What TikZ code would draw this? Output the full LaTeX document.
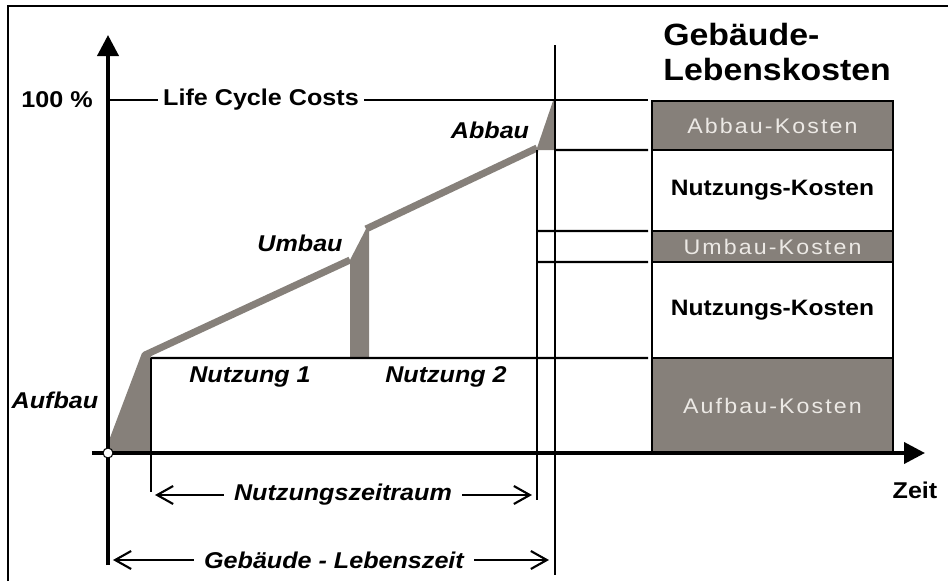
\documentclass[tikz,border=0pt]{standalone}
\usepackage{fontspec}
\setmainfont{Liberation Sans}[FakeStretch=1.1]
\newfontfamily\spacedfont{Liberation Sans}[FakeStretch=1.1,LetterSpace=10]
\usetikzlibrary{positioning,arrows.meta}
\definecolor{costgray}{HTML}{86807A}
\definecolor{paletext}{HTML}{ECE9E5}

\begin{document}
\begin{tikzpicture}[
    axis/.style={line width=2.2pt, -{Triangle[length=0.42cm,width=0.42cm]}},
    lvl/.style={line width=1.2pt},
    dimarrow/.style={line width=1.2pt, -{Straight Barb[length=0.32cm,width=0.36cm]}},
    curve/.style={line width=4pt, draw=costgray, line join=round},
    lbl/.style={font=\fontsize{13}{15}\selectfont\bfseries, inner sep=0.1cm},
    phase/.style={font=\fontsize{13}{15}\selectfont\bfseries\itshape, inner sep=0.1cm},
    kseg/.style={draw, line width=1.6pt, minimum width=4.82cm, inner sep=0pt,
                 outer sep=0pt},
    kgray/.style={kseg, fill=costgray, text=paletext,
                  font=\fontsize{12}{14}\selectfont\spacedfont},
    kwhite/.style={kseg, fill=white, font=\fontsize{12.7}{15}\selectfont\bfseries},
]
\useasboundingbox (-2.16,-2.56) rectangle (16.8,9.06);

% frame
\draw[line width=1.4pt] (-2.0,-2.56) -- (-2.0,8.94) -- (16.8,8.94);

% key points of the cost curve
\coordinate (O) at (0,0);
\coordinate (A) at (0.74,1.96);
\coordinate (U1) at (4.84,3.86);
\coordinate (U2) at (5.16,4.48);
\coordinate (B1) at (8.58,6.1);
\coordinate (B2) at (8.9,7.04);

% phases (gray)
\fill[costgray] (O) -- (A) -- (0.86,1.96) -- (0.86,0) -- cycle;
\fill[costgray] (4.84,1.9) -- (U1) -- (U2) -- (5.22,4.5) -- (5.22,1.9) -- cycle;
\fill[costgray] (8.58,6.06) -- (B1) -- (B2) -- (8.94,7.06) -- (8.94,6.06) -- cycle;
\draw[curve] (O) -- (A) -- (U1) (U2) -- (B1);

% cost stack
\node[kgray, minimum height=1.9cm, anchor=south west] (aufk) at (10.88,0)
    {Aufbau-Kosten};
\node[kwhite, minimum height=1.92cm, above=0pt of aufk] (nutk1) {Nutzungs-Kosten};
\node[kgray, minimum height=0.62cm, above=0pt of nutk1] (umbk) {Umbau-Kosten};
\node[kwhite, minimum height=1.62cm, above=0pt of umbk] (nutk2) {Nutzungs-Kosten};
\node[kgray, minimum height=0.98cm, above=0pt of nutk2] (abbk) {Abbau-Kosten};

\node[font=\fontsize{17.5}{20}\selectfont\bfseries, align=left, inner sep=0pt,
      anchor=north west] (title) at (11.1,8.6) {Gebäude-\\Lebenskosten};

% 100 % level
\node[lbl, anchor=east] (pct) at (-0.2,7.06) {100 \%};
\node[lbl] (lcc) at (3.06,7.06) {Life Cycle Costs};
\draw[lvl] (0,7.06) -- (lcc.west);
\draw[lvl] (lcc.east) -- ([xshift=-0.08cm]abbk.west |- lcc.east);

% time marks and levels
\coordinate (nzS) at (0.86,1.9);
\coordinate (nzE) at (8.58,6.06);
\coordinate (lzE) at (8.94,8.16);
\draw[lvl] (nzS) -- ++(0,-2.68);
\draw[lvl] (nzS) -- ([xshift=-0.08cm]aufk.north west);
\draw[lvl] (nzE) -- ++(0,-7.0);
\draw[lvl] (lzE) -- ++(0,-10.6);
\draw[lvl] (8.94,6.06) -- ([xshift=-0.08cm]abbk.south west);
\draw[lvl] (8.58,4.44) -- ([xshift=-0.08cm]umbk.north west);
\draw[lvl] (8.58,3.82) -- ([xshift=-0.08cm]umbk.south west);

% axes
\draw[axis] (0,-2.24) -- (0,8.36);
\draw[axis] (-0.32,0) -- (16.34,0);
\node[circle, draw, fill=white, line width=0.6pt, minimum size=0.2cm,
      inner sep=0pt] (orig) at (O) {};
\node[lbl] (zeit) at (16.14,-0.74) {Zeit};

% phase labels
\node[phase] (aufb) at (-1.06,1.06) {Aufbau};
\node[phase] (umb) at (3.84,4.2) {Umbau};
\node[phase] (abb) at (7.64,6.46) {Abbau};
\node[phase] (nz1) at (2.84,1.52) {Nutzung 1};
\node[phase] (nz2) at (6.76,1.52) {Nutzung 2};

% spans
\coordinate (nzL) at (0.94,-0.84);
\coordinate (nzR) at (8.48,-0.84);
\coordinate (lzL) at (0.1,-2.14);
\coordinate (lzR) at (8.82,-2.14);
\node[phase, inner sep=0.2cm] (nzr) at (4.7,-0.84) {Nutzungszeitraum};
\draw[dimarrow] (nzr.west) -- (nzL);
\draw[dimarrow] (nzr.east) -- (nzR);
\node[phase, inner sep=0.2cm] (lzt) at (4.52,-2.14) {Gebäude - Lebenszeit};
\draw[dimarrow] (lzt.west) -- (lzL);
\draw[dimarrow] (lzt.east) -- (lzR);

\end{tikzpicture}
\end{document}
